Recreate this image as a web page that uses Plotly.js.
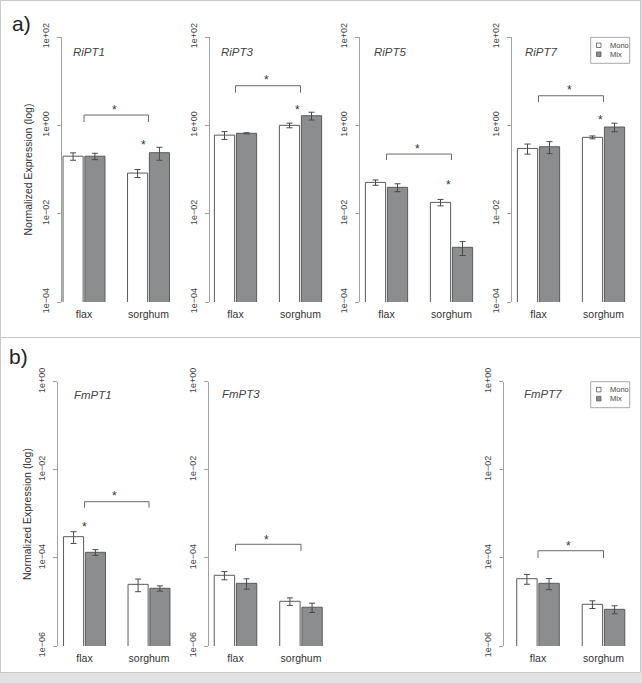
<!DOCTYPE html>
<html><head><meta charset="utf-8">
<script src="https://cdn.plot.ly/plotly-3.0.1.min.js"></script>
<style>html,body{margin:0;padding:0;background:#fff;} #chart{width:642px;height:683px;}</style>
</head><body><div id="chart"></div>
<script>
// ---------------- DATA ----------------
const categories = ["flax", "sorghum"];
const seriesNames = ["Mono", "Mix"];
const yTickValsA = [1e-4, 1e-2, 1, 1e2];
const yTickTextA = ["1e\u221204", "1e\u221202", "1e+00", "1e+02"];
const yTickValsB = [1e-6, 1e-4, 1e-2, 1];
const yTickTextB = ["1e\u221206", "1e\u221204", "1e\u221202", "1e+00"];

const RiPT1_mono = [0.20, 0.083];
const RiPT1_mono_se = [0.038, 0.017];
const RiPT1_mix = [0.20, 0.24];
const RiPT1_mix_se = [0.033, 0.078];

const RiPT3_mono = [0.60, 1.00];
const RiPT3_mono_se = [0.12, 0.12];
const RiPT3_mix = [0.66, 1.65];
const RiPT3_mix_se = [0.02, 0.33];

const RiPT5_mono = [0.051, 0.018];
const RiPT5_mono_se = [0.007, 0.003];
const RiPT5_mix = [0.0395, 0.00173];
const RiPT5_mix_se = [0.008, 0.0006];

const RiPT7_mono = [0.30, 0.535];
const RiPT7_mono_se = [0.077, 0.04];
const RiPT7_mix = [0.328, 0.916];
const RiPT7_mix_se = [0.10, 0.20];

const FmPT1_mono = [3.03e-4, 2.51e-5];
const FmPT1_mono_se = [9e-5, 8e-6];
const FmPT1_mix = [1.34e-4, 2.04e-5];
const FmPT1_mix_se = [2e-5, 2.8e-6];

const FmPT3_mono = [4.03e-5, 1.035e-5];
const FmPT3_mono_se = [8.5e-6, 2e-6];
const FmPT3_mix = [2.65e-5, 7.58e-6];
const FmPT3_mix_se = [7e-6, 1.8e-6];

const FmPT7_mono = [3.37e-5, 8.85e-6];
const FmPT7_mono_se = [8.5e-6, 1.75e-6];
const FmPT7_mix = [2.65e-5, 6.8e-6];
const FmPT7_mix_se = [7.5e-6, 1.4e-6];

// ---------------- LAYOUT SPEC ----------------
const W = 642, H = 683;
const px = v => v / W;
const py = v => 1 - v / H;
const FONT = "Liberation Sans, Arial, Helvetica, sans-serif";
const MONO_FILL = "#ffffff", MIX_FILL = "#8c8d8f", OUTLINE = "#5a5a5a";

const panels = {
  a: {top: 37, bottom: 302, range: [-4, 2], tv: yTickValsA, tt: yTickTextA},
  b: {top: 381.7, bottom: 646, range: [-6, 0], tv: yTickValsB, tt: yTickTextB}
};

// br = [bracket y (log10), bracket drop end (log10), star y (log10)], extra = [x, y(log10)]
const plots = [
  {gene: "RiPT1", mono: RiPT1_mono, monoSe: RiPT1_mono_se, mix: RiPT1_mix, mixSe: RiPT1_mix_se,
   panel: "a", c0: 84, c1: 148.5, axisX: 61, tx: 70.7, ty: 52.3, br: [0.233, 0.075, 0.414], extra: [0.93, -0.378]},
  {gene: "RiPT3", mono: RiPT3_mono, monoSe: RiPT3_mono_se, mix: RiPT3_mix, mixSe: RiPT3_mix_se,
   panel: "a", c0: 235.5, c1: 300.5, axisX: 209, tx: 218.7, ty: 52, br: [0.897, 0.738, 1.093], extra: [0.95, 0.414]},
  {gene: "RiPT5", mono: RiPT5_mono, monoSe: RiPT5_mono_se, mix: RiPT5_mix, mixSe: RiPT5_mix_se,
   panel: "a", c0: 386.5, c1: 451.5, axisX: 359, tx: 371.7, ty: 52, br: [-0.650, -0.786, -0.469], extra: [0.95, -1.284]},
  {gene: "RiPT7", mono: RiPT7_mono, monoSe: RiPT7_mono_se, mix: RiPT7_mix, mixSe: RiPT7_mix_se,
   panel: "a", c0: 538.5, c1: 603.5, axisX: 511, tx: 523, ty: 52, br: [0.670, 0.527, 0.867], extra: [0.96, 0.188]},
  {gene: "FmPT1", mono: FmPT1_mono, monoSe: FmPT1_mono_se, mix: FmPT1_mix, mixSe: FmPT1_mix_se,
   panel: "b", c0: 84.5, c1: 149, axisX: 57, tx: 72, ty: 395, br: [-2.724, -2.860, -2.527], extra: [0.0, -3.230]},
  {gene: "FmPT3", mono: FmPT3_mono, monoSe: FmPT3_mono_se, mix: FmPT3_mix, mixSe: FmPT3_mix_se,
   panel: "b", c0: 235.5, c1: 301, axisX: 208, tx: 220, ty: 394, br: [-3.691, -3.843, -3.526], extra: null},
  {gene: "FmPT7", mono: FmPT7_mono, monoSe: FmPT7_mono_se, mix: FmPT7_mix, mixSe: FmPT7_mix_se,
   panel: "b", c0: 538, c1: 603.5, axisX: 503, tx: 521.7, ty: 394, br: [-3.837, -4.002, -3.662], extra: null}
];

const traces = [];
const layout = {
  width: W, height: H, autosize: false,
  margin: {l: 0, r: 0, t: 0, b: 0, pad: 0},
  paper_bgcolor: "#ffffff", plot_bgcolor: "rgba(0,0,0,0)",
  barmode: "group", bargap: 0.323, bargroupgap: 0.08,
  showlegend: false,
  font: {family: FONT, color: "#333"},
  shapes: [], annotations: []
};

// frame
layout.shapes.push({type: "rect", xref: "paper", yref: "paper", x0: px(640.5), x1: 1, y0: 0, y1: 1,
  fillcolor: "#e2e2e2", line: {width: 0}, layer: "below"});
layout.shapes.push({type: "rect", xref: "paper", yref: "paper", x0: 0, x1: 1, y0: 0, y1: py(672.5),
  fillcolor: "#e2e2e2", line: {width: 0}, layer: "below"});
layout.shapes.push({type: "rect", xref: "paper", yref: "paper", x0: px(0.5), x1: px(640.5), y0: py(672.5), y1: py(0.5),
  line: {color: "#c8c8c8", width: 1}, layer: "below"});
layout.shapes.push({type: "line", xref: "paper", yref: "paper", x0: px(0.5), x1: px(640.5), y0: py(337.5), y1: py(337.5),
  line: {color: "#c8c8c8", width: 1}, layer: "below"});

plots.forEach((p, i) => {
  const k = i + 1, s = k === 1 ? "" : String(k);
  const P = p.c1 - p.c0;
  const pan = panels[p.panel];
  const errStyle = {type: "data", visible: true, color: "#4a4a4a", thickness: 1, width: 3};
  traces.push({type: "bar", name: seriesNames[0], x: categories, y: p.mono, xaxis: "x" + s, yaxis: "y" + s,
    marker: {color: MONO_FILL, line: {color: OUTLINE, width: 1}},
    error_y: Object.assign({array: p.monoSe}, errStyle), hoverinfo: "x+y"});
  traces.push({type: "bar", name: seriesNames[1], x: categories, y: p.mix, xaxis: "x" + s, yaxis: "y" + s,
    marker: {color: MIX_FILL, line: {color: OUTLINE, width: 1}},
    error_y: Object.assign({array: p.mixSe}, errStyle), hoverinfo: "x+y"});

  layout["xaxis" + s] = {
    domain: [px(p.c0 - P / 2), px(p.c1 + P / 2)], range: [-0.5, 1.5], type: "category",
    anchor: "y" + s, showline: false, showgrid: false, zeroline: false, ticks: "",
    tickfont: {size: 10.5, color: "#333", family: FONT}, ticklabelstandoff: 4, fixedrange: true
  };
  layout["yaxis" + s] = {
    domain: [py(pan.bottom), py(pan.top)], type: "log", range: pan.range,
    anchor: "free", position: px(p.axisX), side: "left",
    showline: true, linecolor: "#a0a0a0", linewidth: 1,
    ticks: "outside", ticklen: 4, tickcolor: "#a0a0a0", tickwidth: 1,
    tickvals: pan.tv, ticktext: pan.tt, tickangle: -90,
    tickfont: {size: 9, color: "#444", family: FONT}, ticklabelstandoff: 4,
    showgrid: false, zeroline: false, fixedrange: true
  };

  // gene title
  layout.annotations.push({xref: "paper", yref: "paper", x: px(p.tx), y: py(p.ty), xanchor: "left", yanchor: "middle",
    text: "<i>" + p.gene + "</i>", showarrow: false, font: {size: 11.5, color: "#444", family: FONT}});

  // significance bracket (path coordinates use data values on log axes)
  const by = Math.pow(10, p.br[0]), bd = Math.pow(10, p.br[1]), sy = p.br[2];
  layout.shapes.push({type: "path", xref: "x" + s, yref: "y" + s,
    path: `M 0,${bd} L 0,${by} L 1,${by} L 1,${bd}`, line: {color: "#6a6a6a", width: 1}});
  layout.annotations.push({xref: "x" + s, yref: "y" + s, x: 0.47, y: sy, text: "*", showarrow: false,
    yshift: -3, font: {size: 12, color: "#333", family: FONT}});
  if (p.extra) {
    layout.annotations.push({xref: "x" + s, yref: "y" + s, x: p.extra[0], y: p.extra[1], text: "*", showarrow: false,
      yshift: -3, font: {size: 12, color: "#333", family: FONT}});
  }
});

// panel labels and y titles
[["a)", 10, 23.5], ["b)", 7, 356.5]].forEach(([t, x, y]) => {
  layout.annotations.push({xref: "paper", yref: "paper", x: px(x), y: py(y), xanchor: "left", yanchor: "middle",
    text: t, showarrow: false, font: {size: 21, color: "#222", family: FONT}});
});
[169.5, 514].forEach(y => {
  layout.annotations.push({xref: "paper", yref: "paper", x: px(27), y: py(y), xanchor: "center", yanchor: "middle",
    text: "Normalized Expression (log)", textangle: -90, showarrow: false, font: {size: 10.5, color: "#333", family: FONT}});
});

// legends (one per panel)
[0, 344.4].forEach(dy => {
  layout.shapes.push({type: "rect", xref: "paper", yref: "paper", x0: px(590.7), x1: px(629.7), y0: py(63.3 + dy), y1: py(37.3 + dy),
    line: {color: "#a8a8a8", width: 1}, fillcolor: "#ffffff"});
  layout.shapes.push({type: "rect", xref: "paper", yref: "paper", x0: px(596.5), x1: px(601), y0: py(47.5 + dy), y1: py(43 + dy),
    line: {color: OUTLINE, width: 0.8}, fillcolor: MONO_FILL});
  layout.shapes.push({type: "rect", xref: "paper", yref: "paper", x0: px(596.5), x1: px(601), y0: py(56.5 + dy), y1: py(52 + dy),
    line: {color: OUTLINE, width: 0.8}, fillcolor: MIX_FILL});
  layout.annotations.push({xref: "paper", yref: "paper", x: px(608), y: py(45.3 + dy), xanchor: "left", yanchor: "middle",
    text: seriesNames[0], showarrow: false, font: {size: 7.5, color: "#444", family: FONT}});
  layout.annotations.push({xref: "paper", yref: "paper", x: px(608), y: py(54.3 + dy), xanchor: "left", yanchor: "middle",
    text: seriesNames[1], showarrow: false, font: {size: 7.5, color: "#444", family: FONT}});
});

Plotly.newPlot("chart", traces, layout, {staticPlot: true, displayModeBar: false});
</script>
</body></html>
